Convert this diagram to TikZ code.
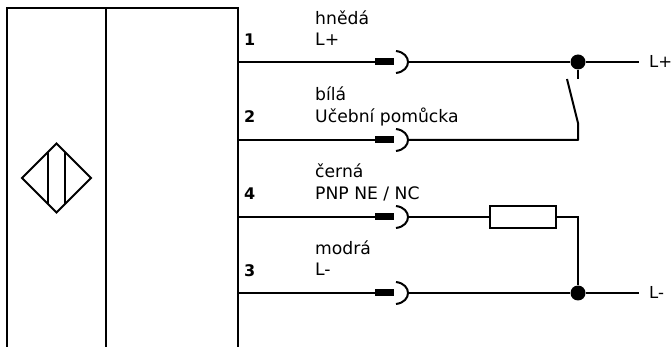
\documentclass[tikz,border=0pt]{standalone}
\usepackage{fontspec}
\setmainfont{DejaVu Sans}
\begin{document}
\begin{tikzpicture}[x=1pt,y=-1pt,
  wire/.style={line width=2pt,line cap=butt},
  lbl/.style={anchor=base west,inner sep=0pt,font=\fontsize{17.2}{18}\selectfont},
  endlbl/.style={anchor=base west,inner sep=0pt,font=\fontsize{16.5}{18}\selectfont},
  pin/.style={anchor=base west,inner sep=0pt,font=\fontsize{16}{17}\selectfont\bfseries},
  junction/.style={circle,fill=black,minimum size=15pt,inner sep=0pt},
  plug/.style={fill=black,minimum width=19pt,minimum height=7pt,inner sep=0pt},
  res/.style={draw,line width=2pt,fill=white,minimum width=66pt,minimum height=22pt,inner sep=0pt}]
\useasboundingbox (0,0) rectangle (672,347);
% housing
\draw[wire] (7,347) -- (7,8) -- (238,8) -- (238,347);
\draw[wire] (106,8) -- (106,347);
% sensor symbol
\coordinate (dt) at (56.5,143.5);
\coordinate (dr) at (91,178);
\coordinate (db) at (56.5,212.5);
\coordinate (dl) at (22,178);
\draw[wire,line join=miter] (dt) -- (dr) -- (db) -- (dl) -- cycle;
\draw[wire] (48,152) -- (48,204);
\draw[wire] (65,152) -- (65,204);
% pins
\node[pin] at (244,46) {1};
\node[pin] at (244,123) {2};
\node[pin] at (244,200) {4};
\node[pin] at (244,277) {3};
% labels
\node[lbl] at (315,25) {hnědá};
\node[lbl] at (315,46) {L+};
\node[lbl] at (315,101) {bílá};
\node[lbl] at (315,123) {Učební pomůcka};
\node[lbl] at (315,178) {černá};
\node[lbl] at (315,200) {PNP NE / NC};
\node[lbl] at (315,255) {modrá};
\node[lbl] at (315,276) {L-};
\node[endlbl] at (649,68) {L+};
\node[endlbl] at (649,299) {L-};
% terminals and junctions
\coordinate (a0) at (238,62);
\coordinate (b0) at (238,140);
\coordinate (c0) at (238,217);
\coordinate (d0) at (238,293);
\coordinate (aend) at (639,62);
\coordinate (dend) at (639,293);
\node[plug] (pa) at (384.5,62) {};
\node[plug] (pb) at (384.5,140) {};
\node[plug] (pc) at (384.5,217) {};
\node[plug] (pd) at (384.5,293) {};
\node[junction] (ja) at (578,62) {};
\node[junction] (jd) at (578,293) {};
\node[res] (r) at (523,217) {};
\coordinate (sa) at (407,62);
\coordinate (sb) at (407,140);
\coordinate (sc) at (407,217);
\coordinate (sd) at (407,293);
% wires
\draw[wire] (a0) -- (pa);
\draw[wire] (b0) -- (pb);
\draw[wire] (c0) -- (pc);
\draw[wire] (d0) -- (pd);
\draw[wire] (sa) -- (ja) -- (aend);
\draw[wire] (sd) -- (jd) -- (dend);
\draw[wire] (sc) -- (r.west);
\draw[wire] (r.east) -- (578,217) -- (jd);
\draw[wire] (ja) -- (578,79);
\coordinate (swb) at (578,123);
\draw[wire,line join=round] (sb) -- (578,140) -- (swb) -- (567,79);
% socket arcs
\foreach \y in {62,140,217,293}{
  \draw[wire] (396,\y-11) .. controls (404,\y-10) and (408,\y-5) .. (408,\y) .. controls (408,\y+5) and (404,\y+10) .. (396,\y+11);
}
\end{tikzpicture}
\end{document}
